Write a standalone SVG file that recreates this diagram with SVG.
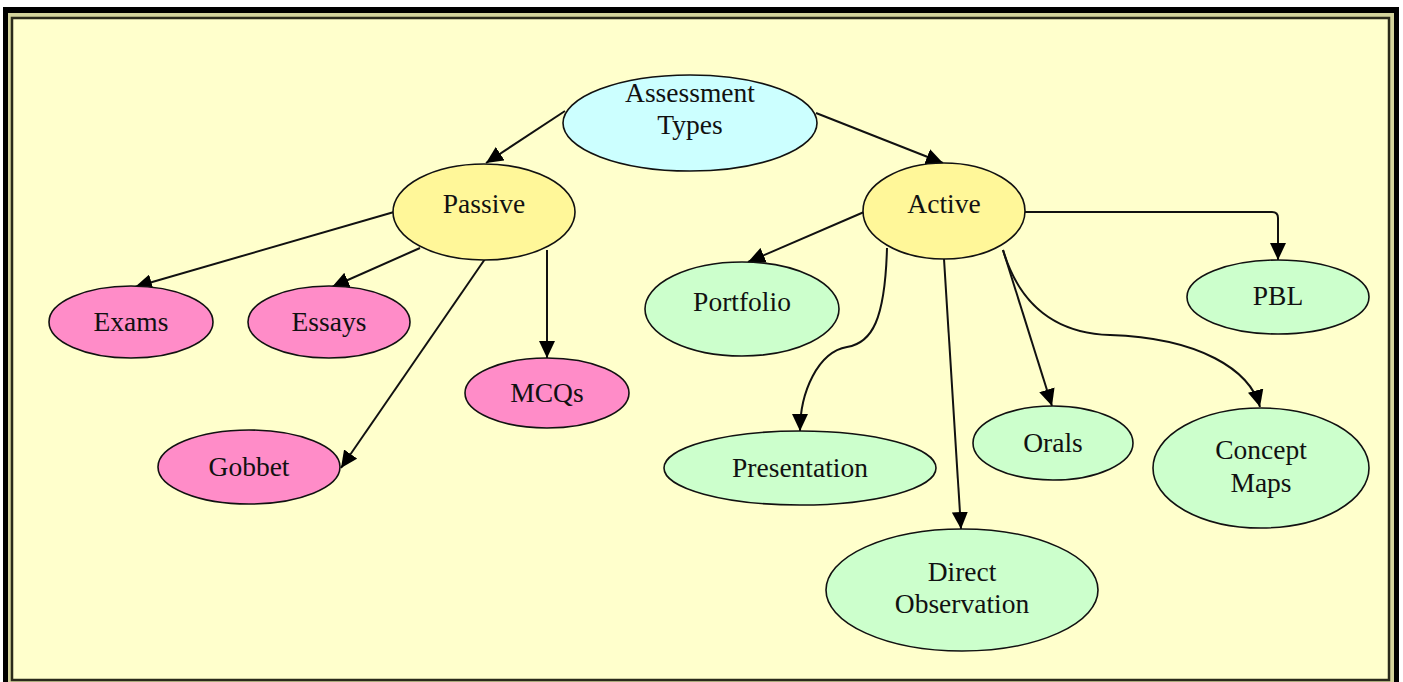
<svg xmlns="http://www.w3.org/2000/svg" width="1403" height="682" viewBox="0 0 1403 682">
<style>
.n ellipse{stroke:#111;stroke-width:1.6}
.root{fill:#ccffff}
.mid{fill:#fff799}
.pink{fill:#ff8cc8}
.green{fill:#ccffcc}
text{font-family:"Liberation Serif","Times New Roman",serif;font-size:27.5px;fill:#111;text-anchor:middle}
.e path{fill:none;stroke:#111;stroke-width:2;marker-end:url(#ah)}
</style>
<defs>
<marker id="ah" markerUnits="userSpaceOnUse" markerWidth="18" markerHeight="16" refX="17" refY="8" orient="auto">
<path d="M0,0 L17,8 L0,16 z" fill="#000"/>
</marker>
</defs>
<rect x="0" y="0" width="1403" height="682" fill="#fff"/>
<rect x="3" y="7" width="1396" height="680" fill="#000"/>
<rect x="8" y="13" width="1386" height="672" fill="#d4d49c"/>
<rect x="12" y="18" width="1377" height="662" fill="#ffffcc" stroke="#2a2a1a" stroke-width="2.5"/>

<g class="e" id="connectors">
<path d="M565,111 L486,163"/>
<path d="M816,113 L943,163"/>
<path d="M394,212 L135,287"/>
<path d="M420,248 L332,287"/>
<path d="M547,250 L547,358"/>
<path d="M485,259 L341,468"/>
<path d="M864,212 L748,262"/>
<path d="M1025,212 L1272,212 Q1278,212 1278,218 L1278,260"/>
<path d="M887,248 C885,320 872,343 847,347 C818,352 800,392 800,431"/>
<path d="M944,259 L961,529"/>
<path d="M1003,250 L1052,406"/>
<path d="M1003,250 C1018,300 1050,333 1110,335 C1200,338 1250,370 1260,407"/>
</g>

<g class="n" id="assessment"><ellipse class="root" cx="690" cy="123" rx="127" ry="48"/><text x="690" y="102">Assessment</text><text x="690" y="134">Types</text></g>
<g class="n" id="passive"><ellipse class="mid" cx="484" cy="212" rx="91" ry="48"/><text x="484" y="213">Passive</text></g>
<g class="n" id="active"><ellipse class="mid" cx="944" cy="211" rx="81" ry="48"/><text x="944" y="213">Active</text></g>
<g class="n" id="exams"><ellipse class="pink" cx="131" cy="322" rx="82" ry="36"/><text x="131" y="331">Exams</text></g>
<g class="n" id="essays"><ellipse class="pink" cx="329" cy="322" rx="81" ry="36"/><text x="329" y="331">Essays</text></g>
<g class="n" id="mcqs"><ellipse class="pink" cx="547" cy="393" rx="82" ry="35"/><text x="547" y="402">MCQs</text></g>
<g class="n" id="gobbet"><ellipse class="pink" cx="249" cy="467" rx="91" ry="37"/><text x="249" y="476">Gobbet</text></g>
<g class="n" id="portfolio"><ellipse class="green" cx="742" cy="309" rx="97" ry="47"/><text x="742" y="311">Portfolio</text></g>
<g class="n" id="presentation"><ellipse class="green" cx="800" cy="468" rx="136" ry="37"/><text x="800" y="477">Presentation</text></g>
<g class="n" id="direct"><ellipse class="green" cx="962" cy="590" rx="136" ry="61"/><text x="962" y="581">Direct</text><text x="962" y="613">Observation</text></g>
<g class="n" id="orals"><ellipse class="green" cx="1053" cy="443" rx="80" ry="37"/><text x="1053" y="452">Orals</text></g>
<g class="n" id="concept"><ellipse class="green" cx="1261" cy="468" rx="108" ry="60"/><text x="1261" y="459">Concept</text><text x="1261" y="492">Maps</text></g>
<g class="n" id="pbl"><ellipse class="green" cx="1278" cy="297" rx="91" ry="37"/><text x="1278" y="305">PBL</text></g>
</svg>
